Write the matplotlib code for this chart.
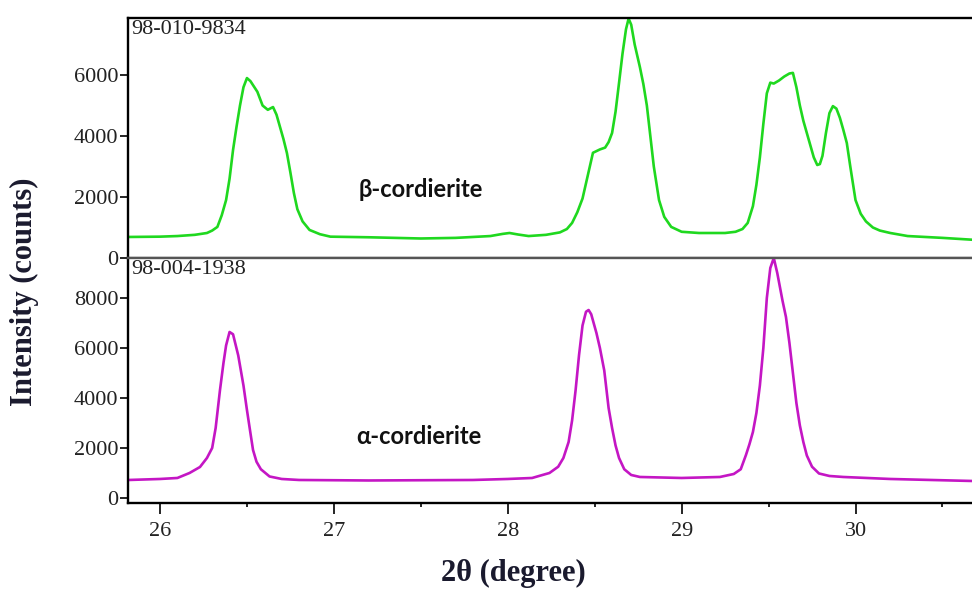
import matplotlib.pyplot as plt
from matplotlib.ticker import MultipleLocator

# beta-cordierite reference pattern (98-010-9834)
tt_beta = [25.82, 26.00, 26.10, 26.20, 26.27, 26.30, 26.33, 26.355, 26.38, 26.40,
           26.42, 26.44, 26.46, 26.48, 26.50, 26.52, 26.56, 26.59, 26.62, 26.65,
           26.67, 26.69, 26.71, 26.73, 26.75, 26.77, 26.79, 26.82, 26.86, 26.92,
           26.98, 27.20, 27.50, 27.70, 27.90, 27.97, 28.01, 28.06, 28.12, 28.22,
           28.30, 28.34, 28.37, 28.40, 28.43, 28.46, 28.49, 28.53, 28.56, 28.58,
           28.60, 28.62, 28.64, 28.66, 28.68, 28.695, 28.71, 28.73, 28.76, 28.78,
           28.80, 28.82, 28.84, 28.87, 28.90, 28.94, 29.00, 29.10, 29.25, 29.31,
           29.35, 29.38, 29.41, 29.43, 29.45, 29.47, 29.49, 29.51, 29.53, 29.56,
           29.59, 29.62, 29.64, 29.66, 29.68, 29.70, 29.72, 29.74, 29.76, 29.78,
           29.795, 29.81, 29.83, 29.85, 29.87, 29.89, 29.91, 29.93, 29.95, 29.97,
           30.00, 30.03, 30.06, 30.10, 30.14, 30.20, 30.30, 30.50, 30.67]
int_beta = [690, 700, 720, 760, 820, 900, 1020, 1400, 1900, 2600,
            3540, 4300, 5000, 5600, 5900, 5800, 5450, 5000, 4860, 4950,
            4700, 4300, 3900, 3440, 2800, 2130, 1600, 1200, 920, 780,
            700, 680, 640, 660, 720, 790, 820, 770, 720, 760,
            840, 950, 1150, 1500, 1950, 2700, 3450, 3560, 3620, 3800,
            4100, 4800, 5740, 6700, 7500, 7850, 7650, 7000, 6260, 5700,
            5000, 4000, 3000, 1900, 1350, 1020, 860, 820, 820, 860,
            950, 1150, 1700, 2400, 3300, 4400, 5400, 5750, 5720, 5820,
            5950, 6050, 6070, 5600, 5000, 4500, 4100, 3700, 3300, 3050,
            3080, 3350, 4100, 4750, 4980, 4900, 4600, 4200, 3770, 3000,
            1900, 1450, 1200, 1000, 900, 820, 720, 660, 600]

# alpha-cordierite reference pattern (98-004-1938)
tt_alpha = [25.82, 26.00, 26.10, 26.17, 26.23, 26.27, 26.30, 26.32, 26.345, 26.365,
            26.38, 26.40, 26.42, 26.45, 26.48, 26.50, 26.52, 26.535, 26.555, 26.58,
            26.63, 26.70, 26.80, 27.20, 27.80, 28.00, 28.14, 28.24, 28.29, 28.32,
            28.35, 28.37, 28.39, 28.41, 28.43, 28.45, 28.465, 28.48, 28.51, 28.53,
            28.555, 28.58, 28.60, 28.62, 28.64, 28.67, 28.71, 28.76, 29.00, 29.22,
            29.30, 29.34, 29.37, 29.39, 29.41, 29.43, 29.45, 29.47, 29.49, 29.51,
            29.53, 29.55, 29.58, 29.60, 29.62, 29.64, 29.66, 29.68, 29.70, 29.72,
            29.75, 29.79, 29.85, 29.93, 30.20, 30.67]
int_alpha = [720, 760, 800, 1000, 1240, 1600, 2000, 2800, 4320, 5400,
             6100, 6640, 6550, 5700, 4500, 3520, 2600, 1920, 1450, 1150,
             860, 760, 720, 700, 720, 760, 800, 1000, 1250, 1600,
             2240, 3100, 4300, 5720, 6900, 7450, 7520, 7350, 6600, 6000,
             5100, 3600, 2800, 2100, 1600, 1150, 920, 840, 800, 840,
             960, 1150, 1720, 2150, 2640, 3400, 4500, 6000, 8000, 9200,
             9600, 9000, 7900, 7240, 6200, 5000, 3800, 2900, 2240, 1700,
             1250, 980, 880, 840, 760, 680]

serif = 'Liberation Serif'
ink = '#1a1a2e'

fig = plt.figure(figsize=(9.72, 5.90), dpi=100)
ax1 = fig.add_axes([0.1317, 0.5627, 0.8683, 0.4068])
ax2 = fig.add_axes([0.1317, 0.1475, 0.8683, 0.4152], sharex=ax1)

ax1.plot(tt_beta, int_beta, color='#1fd81f', lw=1.9, solid_joinstyle='round')
ax2.plot(tt_alpha, int_alpha, color='#c416c4', lw=1.9, solid_joinstyle='round')

ax1.set_xlim(25.816, 30.67)
ax1.set_ylim(0, 7870)
ax2.set_ylim(-200, 9600)

ax1.set_yticks([0, 2000, 4000, 6000])
ax2.set_yticks([0, 2000, 4000, 6000, 8000])
ax2.xaxis.set_major_locator(MultipleLocator(1))
ax2.xaxis.set_minor_locator(MultipleLocator(0.5))

for ax in (ax1, ax2):
    for s in ['left', 'top', 'bottom']:
        ax.spines[s].set_linewidth(1.7)
    ax.spines['right'].set_visible(False)
    ax.tick_params(axis='y', direction='out', length=6, width=1.2,
                   labelsize=16, pad=1, labelcolor='#222222')
    for lab in ax.get_yticklabels():
        lab.set_fontfamily(serif)

ax1.tick_params(axis='x', bottom=False, labelbottom=False)
ax1.spines['bottom'].set_color('#555555')
ax2.spines['top'].set_color('#555555')
ax2.tick_params(axis='x', which='major', direction='out', length=8, width=1.2,
                labelsize=16, pad=6, labelcolor='#222222')
ax2.tick_params(axis='x', which='minor', direction='out', length=3, width=1.2)
for lab in ax2.get_xticklabels():
    lab.set_fontfamily(serif)

ax1.text(0.004, 0.99, '98-010-9834', transform=ax1.transAxes, ha='left',
         va='top', fontsize=16, family=serif, color='#222222')
ax2.text(0.004, 0.99, '98-004-1938', transform=ax2.transAxes, ha='left',
         va='top', fontsize=16, family=serif, color='#222222')

ax1.text(27.14, 2230, 'β-cordierite', fontsize=17, fontweight='bold',
         family='Lato', ha='left', va='center', color='#111111')
ax2.text(27.13, 2440, 'α-cordierite', fontsize=17, fontweight='bold',
         family='Lato', ha='left', va='center', color='#111111')

fig.text(0.025, 0.505, 'Intensity (counts)', rotation=90, ha='center',
         va='center', fontsize=22, fontweight='bold', family=serif, color=ink)
fig.text(0.528, 0.028, '2θ (degree)', ha='center', va='center', fontsize=22,
         fontweight='bold', family=serif, color=ink)

fig.savefig('out.png', dpi=100)
